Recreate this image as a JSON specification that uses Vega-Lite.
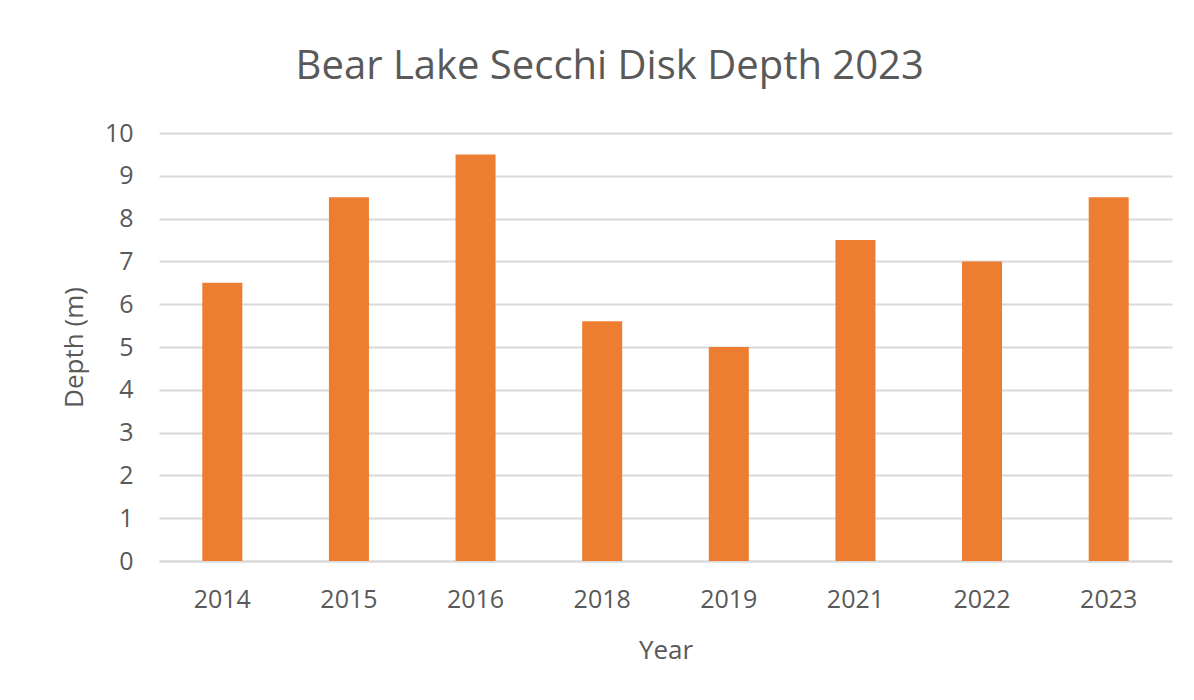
{
  "$schema": "https://vega.github.io/schema/vega-lite/v6.json",
  "width": 1013,
  "height": 428,
  "autosize": {"type": "none"},
  "padding": {"left": 159, "top": 133, "right": 22, "bottom": 139},
  "background": "white",
  "title": {
    "text": "Bear Lake Secchi Disk Depth 2023",
    "font": "Open Sans",
    "fontSize": 40,
    "fontWeight": "normal",
    "color": "#595959",
    "anchor": "middle",
    "frame": "bounds",
    "offset": 34,
    "dx": -7
  },
  "data": {
    "values": [
      {"Year": "2014", "Depth": 6.5},
      {"Year": "2015", "Depth": 8.5},
      {"Year": "2016", "Depth": 9.5},
      {"Year": "2018", "Depth": 5.6},
      {"Year": "2019", "Depth": 5.0},
      {"Year": "2021", "Depth": 7.5},
      {"Year": "2022", "Depth": 7.0},
      {"Year": "2023", "Depth": 8.5}
    ]
  },
  "mark": {"type": "bar", "color": "#ED7D31"},
  "encoding": {
    "x": {
      "field": "Year",
      "type": "nominal",
      "title": "Year",
      "scale": {"paddingInner": 0.684, "paddingOuter": 0.342},
      "axis": {
        "labelAngle": 0,
        "labelFont": "Open Sans",
        "labelFontSize": 25,
        "labelColor": "#595959",
        "labelPadding": 26,
        "ticks": false,
        "domainColor": "#d9d9d9",
        "domainWidth": 2,
        "titleFont": "Open Sans",
        "titleFontSize": 26,
        "titleFontWeight": "normal",
        "titleColor": "#595959",
        "titlePadding": 25
      }
    },
    "y": {
      "field": "Depth",
      "type": "quantitative",
      "title": "Depth (m)",
      "scale": {"domain": [0, 10]},
      "axis": {
        "values": [0, 1, 2, 3, 4, 5, 6, 7, 8, 9, 10],
        "labelFont": "Open Sans",
        "labelFontSize": 25,
        "labelColor": "#595959",
        "labelPadding": 26,
        "ticks": false,
        "domain": false,
        "gridColor": "#d9d9d9",
        "gridWidth": 2,
        "titleFont": "Open Sans",
        "titleFontSize": 26,
        "titleFontWeight": "normal",
        "titleColor": "#595959",
        "titlePadding": 17
      }
    }
  },
  "config": {"view": {"stroke": null}}
}
